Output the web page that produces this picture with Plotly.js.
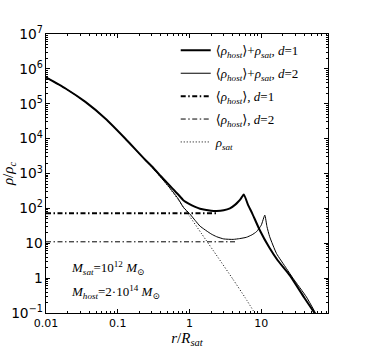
<!DOCTYPE html>
<html>
<head>
<meta charset="utf-8">
<script src="https://cdn.plot.ly/plotly-3.0.1.min.js"></script>
<style>
  html, body { margin: 0; padding: 0; background: #fff; }
  #chart { width: 366px; height: 348px; }
</style>
</head>
<body>
<div id="chart"></div>
<script>
// density profiles (r in units of R_sat, rho in units of rho_c)

var rThick = [0.01, 0.0187, 0.0354, 0.067, 0.127, 0.241, 0.3, 0.4, 0.457, 0.5, 0.536, 0.59, 0.7, 0.82, 1.0, 1.2, 1.4, 2.0, 2.39, 3.0, 3.66, 4.3, 4.77, 5.2, 5.71, 6.5, 7.5, 9.5, 13, 17, 25, 40, 55.3];
var rhoThick = [5.7e5, 2.74e5, 1.13e5, 3.79e4, 1.01e4, 2472, 1582, 832, 620, 512, 438, 355, 246, 172, 133, 110, 98, 86, 84, 88, 100, 126, 155, 190, 252, 130, 71, 24, 7.4, 3.2, 1.2, 0.27, 0.1];

var rThin = [0.01, 0.0187, 0.0354, 0.067, 0.127, 0.241, 0.3, 0.4, 0.457, 0.5, 0.536, 0.59, 0.7, 0.82, 1.0, 1.2, 1.4, 2.0, 2.39, 3.0, 4.06, 5.0, 6.2, 7.4, 8.57, 10.0, 11.2, 12.0, 13.1, 16.3, 22.4, 27.7, 42.5, 57];
var rhoThin = [5.7e5, 2.74e5, 1.13e5, 3.79e4, 1.01e4, 2411, 1521, 771, 559, 451, 377, 294, 185, 108, 71, 45, 31, 18.5, 15.4, 13.3, 12.9, 13.6, 14.8, 17.4, 21.4, 33, 64, 30, 15.4, 5.1, 1.9, 0.99, 0.29, 0.1];

var rHost1 = [0.01, 2.4];
var rhoHost1 = [72, 72];
var rHost2 = [0.01, 4.5];
var rhoHost2 = [11, 11];

var rSat = [0.01, 0.0187, 0.0354, 0.067, 0.127, 0.241, 0.3, 0.4, 0.5, 0.7, 1.0, 1.5, 2.5, 4.0, 6.0, 8.1];
var rhoSat = [5.7e5, 2.74e5, 1.13e5, 3.79e4, 1.01e4, 2400, 1510, 760, 440, 174, 60, 17.8, 3.9, 0.95, 0.27, 0.1];

var names = [
  '\u27E8<i>\u03C1</i><sub><i>host</i></sub>\u27E9+<i>\u03C1</i><sub><i>sat</i></sub>, <i>d</i>=1',
  '\u27E8<i>\u03C1</i><sub><i>host</i></sub>\u27E9+<i>\u03C1</i><sub><i>sat</i></sub>, <i>d</i>=2',
  '\u27E8<i>\u03C1</i><sub><i>host</i></sub>\u27E9, <i>d</i>=1',
  '\u27E8<i>\u03C1</i><sub><i>host</i></sub>\u27E9, <i>d</i>=2',
  '<i>\u03C1</i><sub><i>sat</i></sub>'
];

var dashdot = '5px,2.5px,1.5px,2.5px';

var trace1 = {
  x: rThick, y: rhoThick, name: names[0], legendgroup: 'a', type: 'scatter', mode: 'lines',
  line: {color: 'black', width: 2, shape: 'spline', smoothing: 0.5}
};
var trace2 = {
  x: rThin, y: rhoThin, name: names[1], legendgroup: 'b', type: 'scatter', mode: 'lines',
  line: {color: 'black', width: 1, shape: 'spline', smoothing: 0.5}
};
var trace3 = {
  x: rHost1, y: rhoHost1, name: names[2], legendgroup: 'c', type: 'scatter', mode: 'lines',
  line: {color: 'black', width: 2, dash: dashdot}
};
var trace4 = {
  x: rHost2, y: rhoHost2, name: names[3], legendgroup: 'd', type: 'scatter', mode: 'lines',
  line: {color: 'black', width: 1, dash: dashdot}
};
var trace5 = {
  x: rSat, y: rhoSat, name: names[4], legendgroup: 'e', type: 'scatter', mode: 'lines',
  line: {color: 'black', width: 1, dash: '1px,2px', shape: 'spline', smoothing: 0.5}
};

var data = [trace1, trace2, trace3, trace4, trace5];

var serif = 'Liberation Serif, DejaVu Serif, serif';
var sans = 'DejaVu Sans, sans-serif';

var layout = {
  width: 366,
  height: 348,
  margin: {l: 46, r: 38, t: 34, b: 35},
  paper_bgcolor: 'white',
  plot_bgcolor: 'white',
  showlegend: true,
  legend: {
    x: 0.46, y: 0.995, xanchor: 'left', yanchor: 'top',
    bgcolor: 'rgba(0,0,0,0)',
    font: {family: serif, size: 13, color: 'black'},
    itemwidth: 30,
    tracegroupgap: 3
  },
  xaxis: {
    type: 'log',
    range: [-2, 1.93],
    tickvals: [0.01, 0.1, 1, 10],
    ticktext: ['0.01', '0.1', '1', '10'],
    ticks: 'inside', ticklen: 4, tickcolor: 'black',
    minor: {ticks: 'inside', ticklen: 2, tickcolor: 'black',
            tickvals: [0.02,0.03,0.04,0.05,0.06,0.07,0.08,0.09,0.2,0.3,0.4,0.5,0.6,0.7,0.8,0.9,2,3,4,5,6,7,8,9,20,30,40,50,60,70,80]},
    showline: true, linecolor: 'black', linewidth: 1, mirror: 'allticks',
    showgrid: false, zeroline: false,
    tickfont: {family: sans, size: 11, color: 'black'},
    title: {text: '<i>r</i>/<i>R</i><sub><i>sat</i></sub>', font: {family: serif, size: 15, color: 'black'}, standoff: 4}
  },
  yaxis: {
    type: 'log',
    range: [-1, 7],
    dtick: 1,
    exponentformat: 'power',
    ticks: 'inside', ticklen: 4, tickcolor: 'black',
    minor: {ticks: 'inside', ticklen: 2, tickcolor: 'black', dtick: 'D1'},
    showline: true, linecolor: 'black', linewidth: 1, mirror: 'allticks',
    showgrid: false, zeroline: false,
    tickfont: {family: sans, size: 11, color: 'black'},
    title: {text: '<i>\u03C1</i>/<i>\u03C1</i><sub><i>c</i></sub>', font: {family: serif, size: 15, color: 'black'}, standoff: 2}
  },
  annotations: [
    {
      xref: 'paper', yref: 'paper', x: 0.08, y: 0.161, xanchor: 'left', yanchor: 'middle',
      showarrow: false, font: {family: serif, size: 13, color: 'black'},
      text: '<i>M</i><sub><i>sat</i></sub>=10<sup>12</sup> <i>M</i><sub>\u2299</sub>'
    },
    {
      xref: 'paper', yref: 'paper', x: 0.08, y: 0.075, xanchor: 'left', yanchor: 'middle',
      showarrow: false, font: {family: serif, size: 13, color: 'black'},
      text: '<i>M</i><sub><i>host</i></sub>=2\u00B710<sup>14</sup> <i>M</i><sub>\u2299</sub>'
    }
  ]
};

Plotly.newPlot('chart', data, layout, {displayModeBar: false, staticPlot: true});
</script>
</body>
</html>
